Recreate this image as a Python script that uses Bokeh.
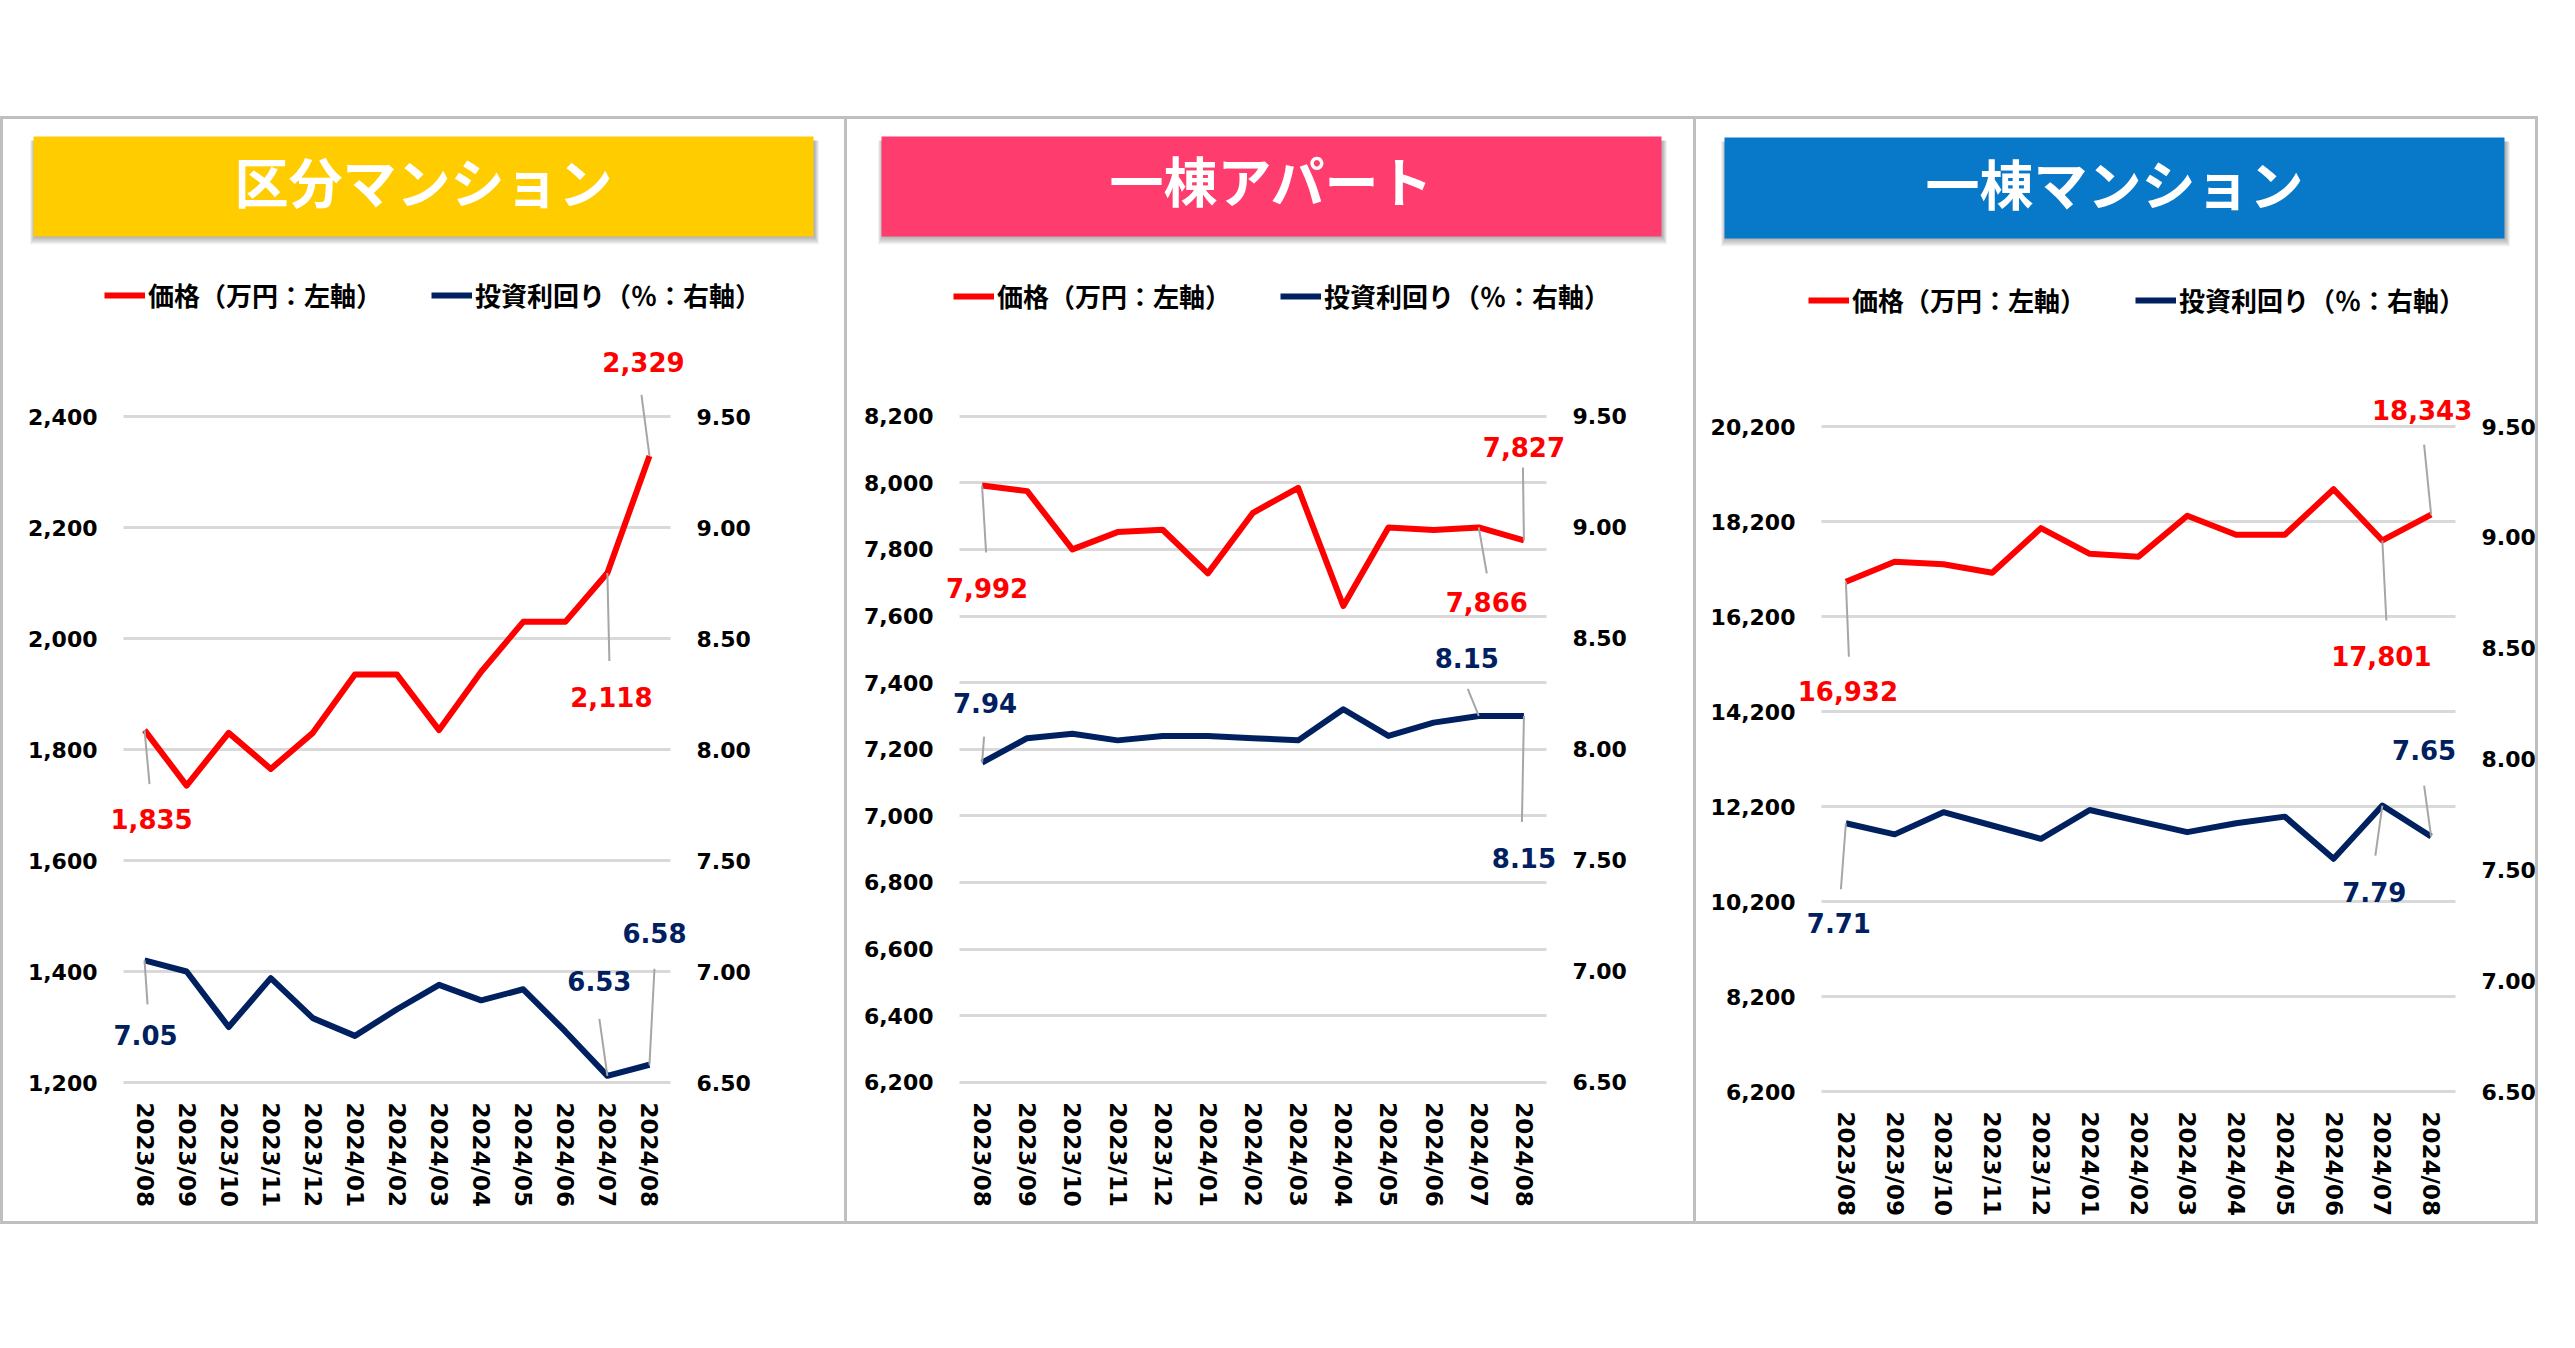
from bokeh.plotting import figure
from bokeh.models import (Range1d, LinearAxis, FixedTicker, NumeralTickFormatter,
                          Legend, LegendItem, Label, Spacer)
from bokeh.layouts import column, row
from bokeh.embed import file_html
from bokeh.resources import INLINE
from bokeh.core.properties import value

# ---------------- data ----------------
months = ["2023/08", "2023/09", "2023/10", "2023/11", "2023/12", "2024/01", "2024/02",
          "2024/03", "2024/04", "2024/05", "2024/06", "2024/07", "2024/08"]

titles = ["区分マンション", "一棟アパート", "一棟マンション"]
legend_labels = ["価格（万円：左軸）", "投資利回り（％：右軸）"]

kubun_price = [1835, 1735, 1830, 1765, 1830, 1935, 1935, 1835, 1940, 2030, 2030, 2118, 2329]
kubun_yield = [7.05, 7.00, 6.75, 6.97, 6.79, 6.71, 6.83, 6.94, 6.87, 6.92, 6.73, 6.53, 6.58]

apart_price = [7992, 7975, 7800, 7852, 7859, 7728, 7910, 7985, 7630, 7866, 7858, 7866, 7827]
apart_yield = [7.94, 8.05, 8.07, 8.04, 8.06, 8.06, 8.05, 8.04, 8.18, 8.06, 8.12, 8.15, 8.15]

mansion_price = [16932, 17354, 17300, 17120, 18060, 17520, 17460, 18320, 17920, 17920, 18880, 17801, 18343]
mansion_yield = [7.71, 7.66, 7.76, 7.70, 7.64, 7.77, 7.72, 7.67, 7.71, 7.74, 7.55, 7.79, 7.65]

kubun_left_ticks = [1200, 1400, 1600, 1800, 2000, 2200, 2400]
apart_left_ticks = [6200, 6400, 6600, 6800, 7000, 7200, 7400, 7600, 7800, 8000, 8200]
mansion_left_ticks = [6200, 8200, 10200, 12200, 14200, 16200, 18200, 20200]
right_ticks = [6.5, 7.0, 7.5, 8.0, 8.5, 9.0, 9.5]

# indices of labelled points
labelled = [0, 11, 12]

# ---------------- style ----------------
RED = "#FF0000"
NAVY = "#002060"
GRID = "#D9D9D9"
LEADER = "#A6A6A6"
BORDER = "#BFBFBF"
BANNER_COLORS = ["#FFCC00", "#FF3C6E", "#0878C8"]
CHART_H = 954
BANNER_H = 148
NUM_FONT = "DejaVu Sans"
JP_FONT = "Noto Sans CJK JP"

# per panel layout (screen px): width, plot-area left/right margins, grid top/bottom px,
# banner box, title y, legend (left, centre y) and label offsets
# (leader end dx,dy ; label dx,dy)
layouts = [
    dict(W=841, ml=120, mr=174, gt=149, gb=815, banner=(30, 810, 17, 117), ty=61, leg=(101, 29),
         price_off=[(5, 54, 7, 89), (2, 88, 4, 124), (-8, -61, -6, -94)],
         yield_off=[(3, 44, 1, 75), (-8, -57, -8, -95), (5, -96, 5, -132)],
         styles={"border": "3px solid " + BORDER}),
    dict(W=846, ml=112, mr=147, gt=148.7, gb=814.8, banner=(34, 814, 17, 117), ty=60, leg=(106, 30),
         price_off=[(4, 67, 5, 103), (8, 46, 8, 75), (-1, -73, 0, -93)],
         yield_off=[(2, -26, 3, -60), (-11, -27, -12, -58), (-2, 106, 0, 142)],
         styles={"border-top": "3px solid " + BORDER, "border-right": "3px solid " + BORDER,
                 "border-bottom": "3px solid " + BORDER}),
    dict(W=839, ml=125, mr=80, gt=159, gb=824, banner=(28, 808, 18, 119), ty=63, leg=(112, 34),
         price_off=[(3, 75, 2, 109), (4, 80, -1, 116), (-7, -70, -9, -105)],
         yield_off=[(-5, 66, -7, 100), (-7, 50, -8, 86), (-7, -51, -7, -87)],
         styles={"border-top": "3px solid " + BORDER, "border-right": "3px solid " + BORDER,
                 "border-bottom": "3px solid " + BORDER}),
]

series = [
    (kubun_price, kubun_yield, kubun_left_ticks),
    (apart_price, apart_yield, apart_left_ticks),
    (mansion_price, mansion_yield, mansion_left_ticks),
]


def style_axis(ax, size="22px"):
    ax.axis_line_color = None
    ax.major_tick_line_color = None
    ax.minor_tick_line_color = None
    ax.major_tick_out = 0
    ax.major_tick_in = 0
    ax.major_label_text_font = NUM_FONT
    ax.major_label_text_font_style = "bold"
    ax.major_label_text_font_size = size
    ax.major_label_text_color = "black"


def make_panel(k):
    L = layouts[k]
    price, yld, lticks = series[k]
    W, ml, mr, gt, gb = L["W"], L["ml"], L["mr"], L["gt"], L["gb"]
    fw = W - ml - mr
    n = len(months)
    idx = list(range(n))

    # scales: plot frame = whole chart figure, grid area = [ml, W-mr] x [gt, gb]
    l_upp = (lticks[-1] - lticks[0]) / (gb - gt)
    r_upp = (right_ticks[-1] - right_ticks[0]) / (gb - gt)
    l_lo, l_hi = lticks[0] - (CHART_H - gb) * l_upp, lticks[-1] + gt * l_upp
    r_lo, r_hi = right_ticks[0] - (CHART_H - gb) * r_upp, right_ticks[-1] + gt * r_upp
    x_upp = n / fw
    x_lo, x_hi = -0.5 - ml * x_upp, n - 0.5 + mr * x_upp

    p = figure(width=W, height=CHART_H, x_range=Range1d(x_lo, x_hi), y_range=Range1d(l_lo, l_hi),
               output_backend="svg", toolbar_location=None, min_border=0)
    p.extra_y_ranges = {"r": Range1d(r_lo, r_hi)}
    p.outline_line_color = None
    p.background_fill_color = "white"
    p.border_fill_color = "white"

    lt = FixedTicker(ticks=lticks)
    yax = p.yaxis[0]
    yax.ticker = lt
    yax.formatter = NumeralTickFormatter(format="0,0")
    yax.fixed_location = -0.5
    yax.major_label_standoff = 26
    style_axis(yax)

    p.ygrid.ticker = lt
    p.ygrid.grid_line_color = GRID
    p.ygrid.grid_line_width = 3
    p.xgrid.visible = False
    try:
        p.ygrid.cross_bounds = (-0.5, n - 0.5)
        grid_ok = True
    except Exception:
        grid_ok = False
    if not grid_ok:
        p.ygrid.visible = False
        p.segment([-0.5] * len(lticks), lticks, [n - 0.5] * len(lticks), lticks,
                  line_color=GRID, line_width=3)

    rax = LinearAxis(y_range_name="r", ticker=FixedTicker(ticks=right_ticks),
                     formatter=NumeralTickFormatter(format="0.00"), fixed_location=n - 0.5,
                     major_label_standoff=26)
    style_axis(rax)
    p.add_layout(rax, "right")

    xax = p.xaxis[0]
    xax.ticker = FixedTicker(ticks=idx)
    xax.major_label_overrides = {i: m for i, m in zip(idx, months)}
    xax.major_label_orientation = "vertical"
    xax.fixed_location = lticks[0] - 4 * l_upp
    xax.major_label_standoff = 16
    style_axis(xax, "23px")

    r_price = p.line(idx, price, line_color=RED, line_width=6, line_join="round")
    r_yield = p.line(idx, yld, line_color=NAVY, line_width=6, line_join="round", y_range_name="r")

    # leader lines + data labels
    for vals, offs, upp, rng, col, fmt in [
        (price, L["price_off"], l_upp, "default", RED, "{:,.0f}"),
        (yld, L["yield_off"], r_upp, "r", NAVY, "{:.2f}"),
    ]:
        x0s, y0s, x1s, y1s = [], [], [], []
        for i, (ldx, ldy, tdx, tdy) in zip(labelled, offs):
            x0s.append(i)
            y0s.append(vals[i])
            x1s.append(i + ldx * x_upp)
            y1s.append(vals[i] - ldy * upp)
            p.add_layout(Label(x=i + tdx * x_upp, y=vals[i] - tdy * upp, y_range_name=rng,
                               text=fmt.format(vals[i]), text_color=col, text_font=NUM_FONT,
                               text_font_style="bold", text_font_size="26px",
                               text_align="center", text_baseline="middle"))
        p.segment(x0s, y0s, x1s, y1s, line_color=LEADER, line_width=2, y_range_name=rng)

    lx, lc = L["leg"]
    legend = Legend(items=[LegendItem(label=legend_labels[0], renderers=[r_price]),
                           LegendItem(label=legend_labels[1], renderers=[r_yield])],
                    location=(lx, CHART_H - lc - 17), orientation="horizontal",
                    glyph_width=41, glyph_height=20, label_standoff=3, spacing=49,
                    padding=0, margin=0, border_line_color=None, background_fill_alpha=0,
                    label_text_font=JP_FONT, label_text_font_style="bold",
                    label_text_font_size="26px", label_text_color="black")
    p.add_layout(legend)

    # title banner
    b = figure(width=W, height=BANNER_H, x_range=Range1d(0, W), y_range=Range1d(BANNER_H, 0),
               x_axis_location=None, y_axis_location=None, output_backend="svg",
               toolbar_location=None, min_border=0)
    b.grid.visible = False
    b.outline_line_color = None
    b.border_fill_color = "white"
    bx0, bx1, by0, by1 = L["banner"]
    for s in range(1, 10):
        b.quad(left=[bx0 - s * 0.5 + 1], right=[bx1 + s * 0.5 + 1], top=[by0 + 4], bottom=[by1 + s * 0.9],
               fill_color="black", fill_alpha=0.035, line_color=None)
    b.quad(left=[bx0], right=[bx1], top=[by0], bottom=[by1], fill_color=BANNER_COLORS[k], line_color=None)
    b.text(x=[(bx0 + bx1) / 2], y=[L["ty"]], text=[titles[k]], text_font=value(JP_FONT),
           text_font_style="bold", text_font_size="54px", text_color="white",
           text_align="center", text_baseline="middle")

    return column(b, p, styles=L["styles"])


root = column(Spacer(width=10, height=116), row(make_panel(0), make_panel(1), make_panel(2)))

with open("out.html", "w") as f:
    f.write(file_html(root, INLINE))
